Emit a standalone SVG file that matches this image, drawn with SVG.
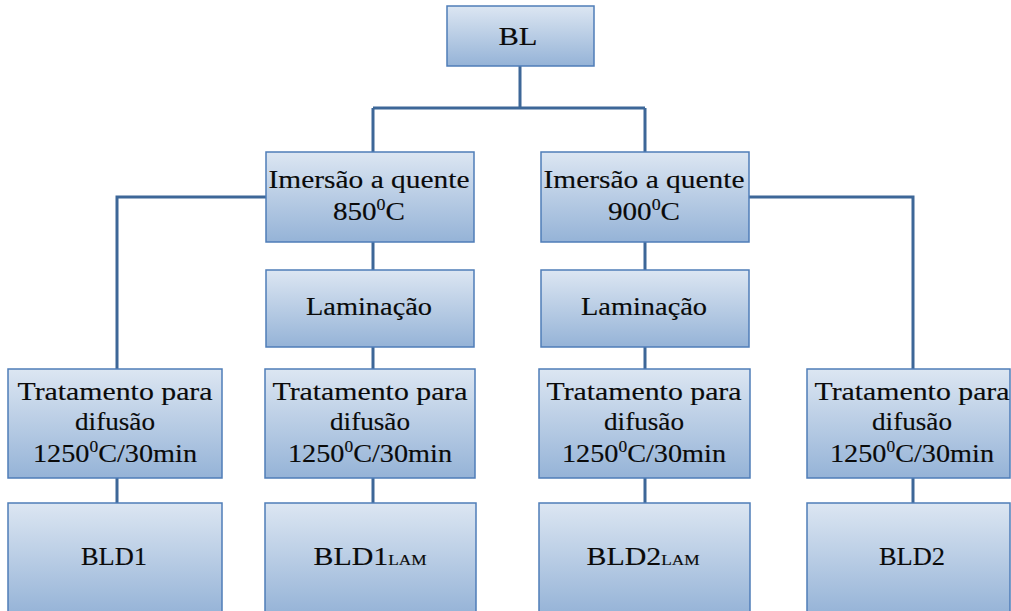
<svg xmlns="http://www.w3.org/2000/svg" width="1011" height="611" viewBox="0 0 1011 611">
<defs>
<linearGradient id="g" x1="0" y1="0" x2="0" y2="1">
<stop offset="0" stop-color="#dce6f2"/>
<stop offset="1" stop-color="#95b3d7"/>
</linearGradient>
<style>
.box{fill:url(#g);stroke:#4f7db8;stroke-width:1.5}
.c{fill:none;stroke:#3d6798;stroke-width:3;stroke-linejoin:miter}
.t{font-family:'Liberation Serif','Times New Roman','DejaVu Serif',serif;font-size:26px;fill:#0a0a0a;stroke:#0a0a0a;stroke-width:0.15;text-anchor:middle}
.sup{font-size:16px}
.sub{font-size:15px}
</style>
</defs>
<rect width="1011" height="611" fill="#fff"/>
<g id="connectors">
<path class="c" d="M520 66V108M373 108H645M373 108V152M645 108V152"/>
<path class="c" d="M373 242V270M373 347V369M373 478V503"/>
<path class="c" d="M645 242V270M645 347V369M645 478V503"/>
<path class="c" d="M266 197H117V369M117 478V503"/>
<path class="c" d="M749 197H913V369M913 478V503"/>
</g>
<g id="bl">
<rect class="box" x="447" y="6" width="147" height="60"/>
<text class="t" x="518" y="45" textLength="39" lengthAdjust="spacingAndGlyphs">BL</text>
</g>
<g id="imersao1">
<rect class="box" x="266" y="152" width="208" height="90"/>
<text class="t" x="369" y="188" textLength="201" lengthAdjust="spacingAndGlyphs">Imersão a quente</text>
<text class="t" x="369" y="220" textLength="72" lengthAdjust="spacingAndGlyphs">850<tspan class="sup" dy="-10">0</tspan><tspan dy="10">C</tspan></text>
</g>
<g id="imersao2">
<rect class="box" x="541" y="152" width="208" height="90"/>
<text class="t" x="644" y="188" textLength="201" lengthAdjust="spacingAndGlyphs">Imersão a quente</text>
<text class="t" x="644" y="220" textLength="72" lengthAdjust="spacingAndGlyphs">900<tspan class="sup" dy="-10">0</tspan><tspan dy="10">C</tspan></text>
</g>
<g id="laminacao1">
<rect class="box" x="266" y="270" width="208" height="77"/>
<text class="t" x="369" y="315" textLength="126" lengthAdjust="spacingAndGlyphs">Laminação</text>
</g>
<g id="laminacao2">
<rect class="box" x="541" y="270" width="208" height="77"/>
<text class="t" x="644" y="315" textLength="126" lengthAdjust="spacingAndGlyphs">Laminação</text>
</g>
<g id="trat1">
<rect class="box" x="8" y="369" width="214" height="109"/>
<text class="t" x="115" y="400" textLength="195" lengthAdjust="spacingAndGlyphs">Tratamento para</text>
<text class="t" x="115" y="430" textLength="80" lengthAdjust="spacingAndGlyphs">difusão</text>
<text class="t" x="115" y="462" textLength="164" lengthAdjust="spacingAndGlyphs">1250<tspan class="sup" dy="-10">0</tspan><tspan dy="10">C/30min</tspan></text>
</g>
<g id="trat2">
<rect class="box" x="265" y="369" width="210" height="109"/>
<text class="t" x="370" y="400" textLength="195" lengthAdjust="spacingAndGlyphs">Tratamento para</text>
<text class="t" x="370" y="430" textLength="80" lengthAdjust="spacingAndGlyphs">difusão</text>
<text class="t" x="370" y="462" textLength="164" lengthAdjust="spacingAndGlyphs">1250<tspan class="sup" dy="-10">0</tspan><tspan dy="10">C/30min</tspan></text>
</g>
<g id="trat3">
<rect class="box" x="539" y="369" width="211" height="109"/>
<text class="t" x="644" y="400" textLength="195" lengthAdjust="spacingAndGlyphs">Tratamento para</text>
<text class="t" x="644" y="430" textLength="80" lengthAdjust="spacingAndGlyphs">difusão</text>
<text class="t" x="644" y="462" textLength="164" lengthAdjust="spacingAndGlyphs">1250<tspan class="sup" dy="-10">0</tspan><tspan dy="10">C/30min</tspan></text>
</g>
<g id="trat4">
<rect class="box" x="807" y="369" width="203" height="109"/>
<text class="t" x="912" y="400" textLength="195" lengthAdjust="spacingAndGlyphs">Tratamento para</text>
<text class="t" x="912" y="430" textLength="80" lengthAdjust="spacingAndGlyphs">difusão</text>
<text class="t" x="912" y="462" textLength="164" lengthAdjust="spacingAndGlyphs">1250<tspan class="sup" dy="-10">0</tspan><tspan dy="10">C/30min</tspan></text>
</g>
<g id="bld1">
<rect class="box" x="8" y="503" width="214" height="112"/>
<text class="t" x="114" y="565" textLength="66" lengthAdjust="spacingAndGlyphs">BLD1</text>
</g>
<g id="bld1lam">
<rect class="box" x="265" y="503" width="211" height="112"/>
<text class="t" x="370" y="565" textLength="113" lengthAdjust="spacingAndGlyphs">BLD1<tspan class="sub">LAM</tspan></text>
</g>
<g id="bld2lam">
<rect class="box" x="539" y="503" width="211" height="112"/>
<text class="t" x="643" y="565" textLength="113" lengthAdjust="spacingAndGlyphs">BLD2<tspan class="sub">LAM</tspan></text>
</g>
<g id="bld2">
<rect class="box" x="807" y="503" width="203" height="112"/>
<text class="t" x="912" y="565" textLength="66" lengthAdjust="spacingAndGlyphs">BLD2</text>
</g>
</svg>
